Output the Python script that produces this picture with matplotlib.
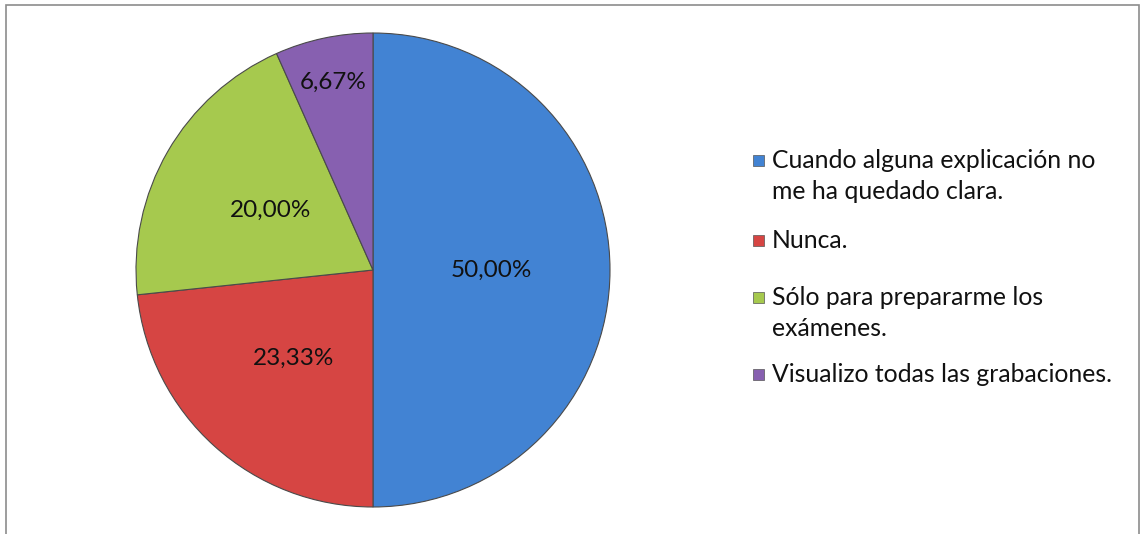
import matplotlib.pyplot as plt
from matplotlib.patches import Rectangle

plt.rcParams['font.family'] = ['Lato', 'DejaVu Sans']

categorias = ['Cuando alguna explicación no\nme ha quedado clara.',
              'Nunca.',
              'Sólo para prepararme los\nexámenes.',
              'Visualizo todas las grabaciones.']
porcentajes = [50.00, 23.33, 20.00, 6.67]
colores = ['#4283D3', '#D64543', '#A6C94E', '#8760B0']

W, H = 1141, 534
fig = plt.figure(figsize=(W / 100, H / 100), dpi=100)

# marco gris del grafico (sin linea inferior, cortado)
fig.patches.append(Rectangle((6 / W, -0.05), (1139 - 6) / W, (H - 5) / H + 0.05,
                             transform=fig.transFigure, fill=False,
                             edgecolor='#8c8c8c', lw=1.2))

cx, cy, r = 373, 270, 237
ax = fig.add_axes([(cx - r) / W, (H - cy - r) / H, 2 * r / W, 2 * r / H])
wedges, texts, autotexts = ax.pie(
    porcentajes, colors=colores, startangle=90, counterclock=False,
    autopct=lambda p: f'{p:.2f}%'.replace('.', ','), pctdistance=0.5,
    wedgeprops=dict(edgecolor='#4a4a4a', linewidth=0.8),
    textprops=dict(fontsize=17.5, color='#111111'))
# la etiqueta del sector pequeño va mas afuera
x, y = autotexts[3].get_position()
autotexts[3].set_position((x * 0.81 / 0.5, y * 0.81 / 0.5))
ax.set_xlim(-1, 1)
ax.set_ylim(-1, 1)
ax.set_aspect('auto')

# leyenda a mano (espaciado como en el original)
filas_y = [160, 240, 297, 374]
for cat, col, yy in zip(categorias, colores, filas_y):
    fig.patches.append(Rectangle((753 / W, (H - yy - 6) / H), 11 / W, 11 / H,
                                 transform=fig.transFigure, facecolor=col,
                                 edgecolor='#555555', lw=0.5))
    fig.text(772 / W, (H - yy + 11) / H, cat, fontsize=17.8, va='top', ha='left',
             color='#111111', linespacing=1.4,
             transform=fig.transFigure)

fig.savefig('out.png', dpi=100)
